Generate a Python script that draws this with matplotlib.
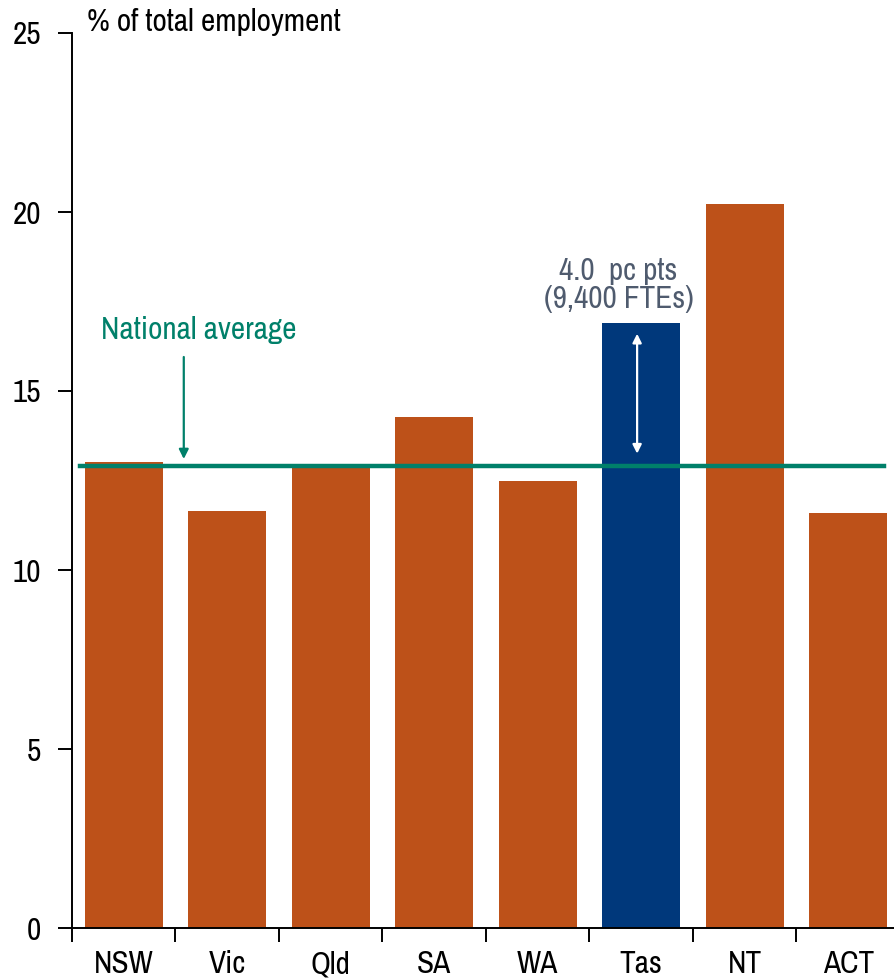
import matplotlib
matplotlib.use("Agg")
from matplotlib import pyplot as plt
import numpy as np

# Share of total employment by state/territory
states = ["NSW", "Vic", "Qld", "SA", "WA", "Tas", "NT", "ACT"]
shares = [13.03, 11.65, 12.84, 14.27, 12.49, 16.9, 20.22, 11.58]
national_avg = 12.9
tas_gap_label = "4.0  pc pts\n(9,400 FTEs)"

orange = "#BD5119"
navy = "#00387B"
teal = "#00806A"
slate = "#4F5B6E"

plt.rcParams["font.family"] = ["Archivo Narrow", "Liberation Sans", "DejaVu Sans"]
plt.rcParams["font.size"] = 22.5

fig = plt.figure(figsize=(8.95, 9.8), dpi=100)
ax = fig.add_axes([72 / 895, 52 / 980, 828 / 895, 895 / 980])

x = np.arange(len(states))
colors = [navy if s == "Tas" else orange for s in states]
ax.bar(x, shares, width=0.75, color=colors, zorder=2)

# national average line
ax.plot([-0.42, 7.35], [national_avg, national_avg], color=teal, lw=3.2, zorder=3)
ax.text(0.72, 16.7, "National average", color=teal, ha="center", va="center")
ax.annotate("", xy=(0.58, national_avg + 0.2), xytext=(0.58, 15.95),
            arrowprops=dict(arrowstyle="-|>", color=teal, lw=1.6,
                            mutation_scale=14, shrinkA=0, shrinkB=0), zorder=4)

# gap between Tasmania and the average
tas = states.index("Tas")
ax.annotate("", xy=(tas - 0.04, shares[tas] - 0.3), xytext=(tas - 0.04, national_avg + 0.35),
            arrowprops=dict(arrowstyle="<|-|>", color="white", lw=1.6,
                            mutation_scale=13, shrinkA=0, shrinkB=0), zorder=4)
ax.text(4.78, 17.96, tas_gap_label, color=slate, ha="center", va="center",
        linespacing=1.0)

ax.set_ylim(0, 25)
ax.set_xlim(-0.5, 7.5)
ax.set_yticks([0, 5, 10, 15, 20, 25])
ax.set_xticks(np.arange(-0.5, 8, 1))
ax.set_xticklabels([])
ax.set_xticks(x, minor=True)
ax.set_xticklabels(states, minor=True)
ax.tick_params(axis="x", which="minor", length=0, pad=16)
ax.tick_params(axis="x", which="major", length=10, width=1.4, direction="out")
ax.tick_params(axis="y", length=10, width=1.4, direction="out", pad=12)

for side in ["top", "right"]:
    ax.spines[side].set_visible(False)
for side in ["left", "bottom"]:
    ax.spines[side].set_linewidth(1.4)

fig.text(87 / 895, 1 - 22 / 980, "% of total employment", ha="left", va="center")

fig.savefig("out.png", dpi=100)
